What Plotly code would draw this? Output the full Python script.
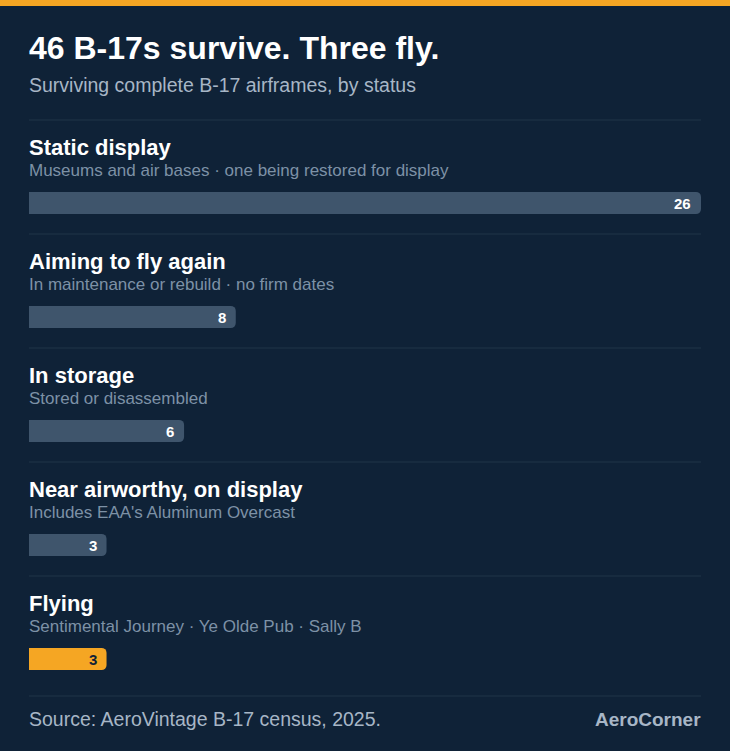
import plotly.graph_objects as go

# data
categories = ["Static display", "Aiming to fly again", "In storage",
              "Near airworthy, on display", "Flying"]
descriptions = ["Museums and air bases · one being restored for display",
                "In maintenance or rebuild · no firm dates",
                "Stored or disassembled",
                "Includes EAA's Aluminum Overcast",
                "Sentimental Journey · Ye Olde Pub · Sally B"]
counts = [26, 8, 6, 3, 3]
highlight = [False, False, False, False, True]

title = "46 B-17s survive. Three fly."
subtitle = "Surviving complete B-17 airframes, by status"
source = "Source: AeroVintage B-17 census, 2025."
brand = "AeroCorner"

BG = "#0f2237"
BAR = "#3f556c"
ORANGE = "#f5a623"
FONT = "Liberation Sans, Arial, Helvetica, sans-serif"

W, H = 730, 751
TOP, BOT = 146, 716          # plot area in pixels


def py(p):
    # pixel y -> paper y
    return (BOT - p) / (BOT - TOP)


ypos = list(range(len(categories)))
bar_colors = [ORANGE if h else BAR for h in highlight]
label_colors = [BG if h else "white" for h in highlight]

fig = go.Figure()
fig.add_trace(go.Bar(
    x=counts, y=ypos, orientation="h",
    marker=dict(color=bar_colors, line=dict(width=0), cornerradius=5),
    width=0.195, hoverinfo="skip",
))

ann = []
for i, (c, d, v) in enumerate(zip(categories, descriptions, counts)):
    ann.append(dict(x=0, y=i, xref="x", yref="y", text=f"<b>{c}</b>",
                    xanchor="left", yanchor="middle", yshift=56, xshift=-2,
                    showarrow=False, font=dict(size=22, color="white")))
    ann.append(dict(x=0, y=i, xref="x", yref="y", text=d,
                    xanchor="left", yanchor="middle", yshift=33, xshift=-2,
                    showarrow=False, font=dict(size=17, color="#7d91a6")))
    ann.append(dict(x=v, y=i, xref="x", yref="y", text=f"<b>{v}</b>",
                    xanchor="right", yanchor="middle", xshift=-8,
                    showarrow=False, font=dict(size=15, color=label_colors[i])))

ann += [
    dict(x=0, y=py(48), xref="paper", yref="paper", text=f"<b>{title}</b>",
         xanchor="left", yanchor="middle", showarrow=False, xshift=-2,
         font=dict(size=32, color="white")),
    dict(x=0, y=py(85), xref="paper", yref="paper", text=subtitle,
         xanchor="left", yanchor="middle", showarrow=False, xshift=-2,
         font=dict(size=19.5, color="#a7b6c6")),
    dict(x=0, y=py(719), xref="paper", yref="paper", text=source,
         xanchor="left", yanchor="middle", showarrow=False, xshift=-2,
         font=dict(size=19.5, color="#a7b6c6")),
    dict(x=1, y=py(719), xref="paper", yref="paper", text=f"<b>{brand}</b>",
         xanchor="right", yanchor="middle", showarrow=False, xshift=2,
         font=dict(size=19, color="#a7b6c6")),
]

shapes = [dict(type="rect", xref="paper", yref="paper", x0=-1, x1=2,
               y0=py(0), y1=py(6), fillcolor=ORANGE, line=dict(width=0),
               layer="below")]
for p in [120, 234, 348, 462, 576, 696]:
    shapes.append(dict(type="line", xref="paper", yref="paper", x0=0, x1=1,
                       y0=py(p), y1=py(p), line=dict(color="#213549", width=1)))

fig.update_layout(
    width=W, height=H,
    margin=dict(l=29, r=29, t=TOP, b=H - BOT, pad=0),
    paper_bgcolor=BG, plot_bgcolor=BG,
    font=dict(family=FONT, color="white"),
    showlegend=False,
    xaxis=dict(range=[0, max(counts)], visible=False, fixedrange=True),
    yaxis=dict(range=[len(categories) - 0.5, -0.5], visible=False, fixedrange=True),
    annotations=ann, shapes=shapes,
)

fig.write_html("out.html", config={"displayModeBar": False},
               post_script="document.body.style.margin='0';")
